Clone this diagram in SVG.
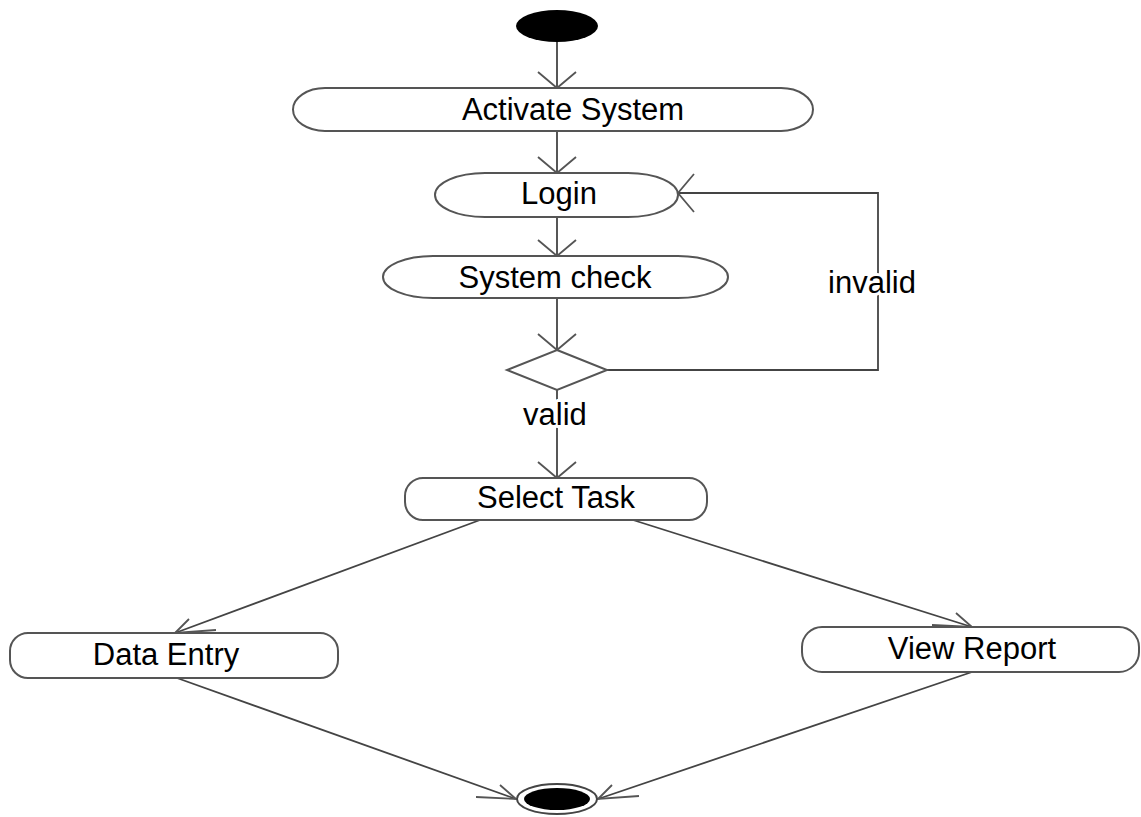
<svg xmlns="http://www.w3.org/2000/svg" width="1141" height="817" viewBox="0 0 1141 817">
  <defs>
    <marker id="arr" markerUnits="userSpaceOnUse" markerWidth="40" markerHeight="44" refX="0" refY="0" viewBox="-20 -22 40 44" orient="auto" overflow="visible">
      <path d="M -16 -19 L 0 0 L -16 19" fill="none" stroke="#555" stroke-width="1.8"/>
    </marker>
    <marker id="arrSE" markerUnits="userSpaceOnUse" markerWidth="50" markerHeight="30" refX="0" refY="0" viewBox="-45 -20 50 30" orient="0" overflow="visible">
      <path d="M -16 -14 L 0 0 L -40 -2" fill="none" stroke="#555" stroke-width="1.8"/>
    </marker>
    <marker id="arrSW" markerUnits="userSpaceOnUse" markerWidth="50" markerHeight="30" refX="0" refY="0" viewBox="-5 -20 50 30" orient="0" overflow="visible">
      <path d="M 14 -14 L 0 0 L 41 -3" fill="none" stroke="#555" stroke-width="1.8"/>
    </marker>
    <style>
      .node { fill: #fff; stroke: #555; stroke-width: 2; }
      .lbl { font-family: "Liberation Sans", Arial, sans-serif; font-size: 31px; fill: #000; text-anchor: middle; }
      .edge { fill: none; stroke: #444; stroke-width: 1.8; }
      .ea { marker-end: url(#arr); }
      .ese { marker-end: url(#arrSE); }
      .esw { marker-end: url(#arrSW); }
      .halo { stroke: #fff; stroke-width: 6; paint-order: stroke; stroke-linejoin: round; }
    </style>
  </defs>
  <rect width="1141" height="817" fill="#fff"/>

  <g id="connectors">
    <line class="edge ea" x1="557" y1="42" x2="557" y2="88"/>
    <line class="edge ea" x1="557" y1="131" x2="557" y2="173"/>
    <line class="edge ea" x1="557" y1="217" x2="557" y2="256"/>
    <line class="edge ea" x1="557" y1="298" x2="557" y2="350"/>
    <line class="edge ea" x1="557" y1="390" x2="557" y2="478"/>
    <polyline class="edge ea" points="607,370 878,370 878,193 678,193"/>
    <line class="edge esw" x1="480" y1="520" x2="175" y2="633"/>
    <line class="edge ese" x1="633" y1="520" x2="972" y2="627"/>
    <line class="edge ese" x1="177" y1="678" x2="516" y2="799"/>
    <line class="edge esw" x1="972" y1="672" x2="598" y2="799"/>
    <text class="lbl halo" x="555" y="425">valid</text>
    <text class="lbl halo" x="872" y="293">invalid</text>
  </g>

  <g id="start">
    <ellipse cx="557" cy="26" rx="41" ry="16" fill="#000"/>
  </g>

  <g id="activate-system">
    <rect class="node" x="293" y="88" width="520" height="43" rx="32" ry="21.5"/>
    <text class="lbl" x="573" y="120">Activate System</text>
  </g>

  <g id="login">
    <rect class="node" x="435" y="173" width="243" height="44" rx="50" ry="22"/>
    <text class="lbl" x="559" y="204">Login</text>
  </g>

  <g id="system-check">
    <rect class="node" x="383" y="256" width="345" height="42" rx="50" ry="21"/>
    <text class="lbl" x="555" y="288">System check</text>
  </g>

  <g id="decision">
    <polygon class="node" points="557,350 607,370 557,390 507,370"/>
  </g>

  <g id="select-task">
    <rect class="node" x="405" y="478" width="302" height="42" rx="18" ry="18"/>
    <text class="lbl" x="556" y="508">Select Task</text>
  </g>

  <g id="data-entry">
    <rect class="node" x="10" y="633" width="328" height="45" rx="18" ry="18"/>
    <text class="lbl" x="166" y="665">Data Entry</text>
  </g>

  <g id="view-report">
    <rect class="node" x="802" y="627" width="337" height="45" rx="20" ry="20"/>
    <text class="lbl" x="972" y="659">View Report</text>
  </g>

  <g id="end">
    <ellipse cx="557" cy="799" rx="40" ry="15" fill="#fff" stroke="#444" stroke-width="2"/>
    <ellipse cx="557" cy="799" rx="33" ry="11" fill="#000"/>
  </g>
</svg>
